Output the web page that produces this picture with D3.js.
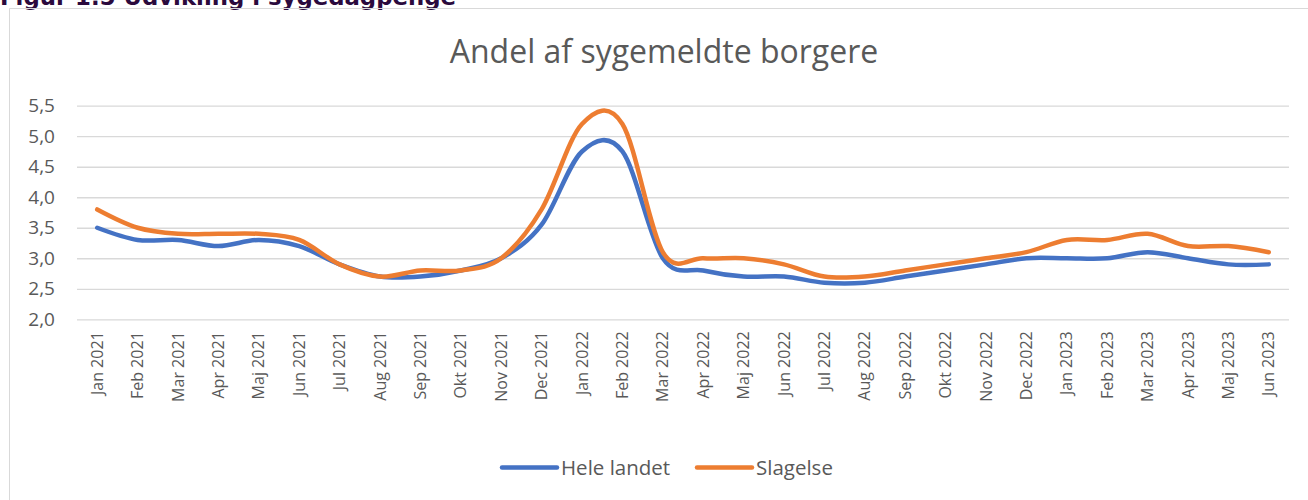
<!DOCTYPE html>
<html>
<head>
<meta charset="utf-8">
<script src="https://d3js.org/d3.v7.min.js"></script>
<style>
  body { margin: 0; background: #fff; }
  svg { display: block; }
  text { font-family: "Open Sans", "Liberation Sans", Arial, sans-serif; fill: #595959; }
</style>
</head>
<body>
<script>
// months on the x axis
const months = ["Jan 2021", "Feb 2021", "Mar 2021", "Apr 2021", "Maj 2021", "Jun 2021", "Jul 2021", "Aug 2021", "Sep 2021", "Okt 2021", "Nov 2021", "Dec 2021",
    "Jan 2022", "Feb 2022", "Mar 2022", "Apr 2022", "Maj 2022", "Jun 2022", "Jul 2022", "Aug 2022", "Sep 2022", "Okt 2022", "Nov 2022", "Dec 2022",
    "Jan 2023", "Feb 2023", "Mar 2023", "Apr 2023", "Maj 2023", "Jun 2023"]

// andel sygemeldte, hele landet
const heleLandet = [3.5, 3.3, 3.3, 3.2, 3.3, 3.2, 2.9, 2.7, 2.7, 2.8, 3.0, 3.55,
    4.75, 4.75, 3.0, 2.8, 2.7, 2.7, 2.6, 2.6, 2.7, 2.8, 2.9, 3.0,
    3.0, 3.0, 3.1, 3.0, 2.9, 2.9]

// andel sygemeldte, Slagelse
const slagelse = [3.8, 3.5, 3.4, 3.4, 3.4, 3.3, 2.9, 2.7, 2.8, 2.8, 3.0, 3.8,
    5.2, 5.2, 3.1, 3.0, 3.0, 2.9, 2.7, 2.7, 2.8, 2.9, 3.0, 3.1,
    3.3, 3.3, 3.4, 3.2, 3.2, 3.1]

const yTicks = [2.0, 2.5, 3.0, 3.5, 4.0, 4.5, 5.0, 5.5]

const seriesList = [
    { name: "Hele landet", values: heleLandet, color: "#4472C4" },
    { name: "Slagelse", values: slagelse, color: "#ED7D31" }
]

const width = 1308, height = 500
const plotLeft = 77, plotRight = 1289, plotTop = 105.7, plotBottom = 319.3

let svg = d3.select("body").append("svg")
    .attr("width", width)
    .attr("height", height)

// figure caption, cut off at the top of the picture (same as the original)
svg.append("text")
    .attr("x", 0)
    .attr("y", 4.5)
    .style("font-family", "'DejaVu Sans', Verdana, sans-serif")
    .style("font-weight", "bold")
    .style("font-size", "22.8px")
    .style("fill", "#2b0a3d")
    .text("Figur 1.5 Udvikling i sygedagpenge")

// chart frame (only top and left edges are inside the picture)
svg.append("path")
    .attr("d", `M9.5,${height} V8.5 H${width}`)
    .attr("fill", "none")
    .attr("stroke", "#d9d9d9")
    .attr("stroke-width", 1)

svg.append("text")
    .attr("x", 664)
    .attr("y", 63)
    .attr("text-anchor", "middle")
    .style("font-size", "32px")
    .text("Andel af sygemeldte borgere")

let x = d3.scaleBand()
    .domain(months)
    .range([plotLeft, plotRight])

let y = d3.scaleLinear()
    .domain([2, 5.5])
    .range([plotBottom, plotTop])

// gridlines
let yAxis = d3.axisLeft(y)
    .tickValues(yTicks)
    .tickSize(-(plotRight - plotLeft))
    .tickPadding(22)
    .tickFormat(d => d3.format(".1f")(d).replace(".", ","))

let yG = svg.append("g")
    .attr("transform", `translate(${plotLeft},0)`)
    .call(yAxis)
yG.select(".domain").remove()
yG.selectAll(".tick line").attr("stroke", "#d9d9d9").attr("stroke-width", 1.3)
yG.selectAll(".tick text")
    .style("font-family", "'Open Sans', sans-serif")
    .style("font-size", "19px")
    .style("fill", "#595959")

// month labels, rotated
let xAxis = d3.axisBottom(x).tickSize(0).tickPadding(0)
let xG = svg.append("g")
    .attr("transform", `translate(0,${plotBottom})`)
    .call(xAxis)
xG.select(".domain").remove()
xG.selectAll(".tick text")
    .attr("transform", "rotate(-90)")
    .attr("x", -12)
    .attr("y", 0)
    .attr("dy", "0.35em")
    .attr("text-anchor", "end")
    .style("font-family", "'Open Sans', sans-serif")
    .style("font-size", "16px")
    .style("fill", "#595959")

// smoothed lines like excel
let line = d3.line()
    .x((d, i) => x(months[i]) + x.bandwidth() / 2)
    .y(d => y(d))
    .curve(d3.curveCardinal.tension(0))

svg.selectAll("path.series")
    .data(seriesList)
    .enter()
    .append("path")
    .attr("class", "series")
    .attr("d", d => line(d.values))
    .attr("fill", "none")
    .attr("stroke", d => d.color)
    .attr("stroke-width", 4.5)
    .attr("stroke-linecap", "round")
    .attr("stroke-linejoin", "round")

// legend
let legend = svg.selectAll("g.legend")
    .data(seriesList)
    .enter()
    .append("g")
    .attr("class", "legend")
    .attr("transform", (d, i) => `translate(${i === 0 ? 502 : 697},467.5)`)

legend.append("line")
    .attr("x1", 0)
    .attr("x2", 55)
    .attr("stroke", d => d.color)
    .attr("stroke-width", 4.5)
    .attr("stroke-linecap", "round")

legend.append("text")
    .attr("x", 59)
    .attr("dy", "0.35em")
    .style("font-family", "'Open Sans', sans-serif")
    .style("font-size", "20.5px")
    .text(d => d.name)
</script>
</body>
</html>
